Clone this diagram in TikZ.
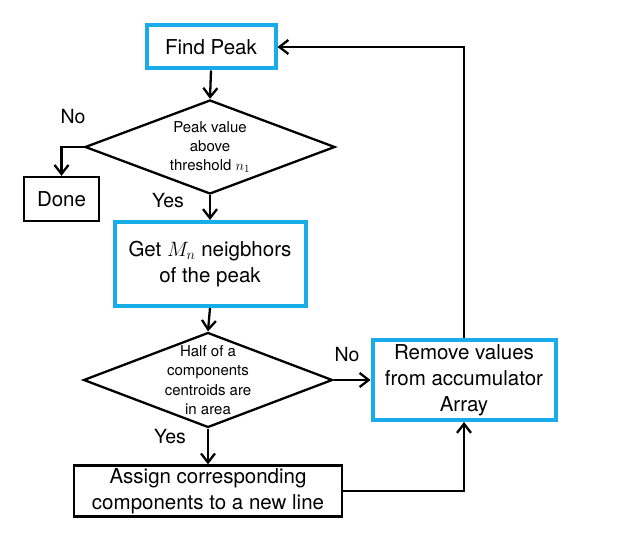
\documentclass[tikz,border=0pt]{standalone}
\usepackage{fontspec}
\setmainfont{TeX Gyre Heros}
\usepackage{xcolor}
\usetikzlibrary{arrows.meta, shapes.geometric}
\definecolor{boxcyan}{RGB}{24,172,232}

\begin{document}
\begin{tikzpicture}[x=1pt, y=-1pt,
    bigtext/.style={font=\fontsize{20.5}{26}\selectfont, align=center},
    cyanbox/.style={draw=boxcyan, line width=4pt, bigtext, inner sep=0pt},
    blackbox/.style={draw=black, line width=2.3pt, bigtext, inner sep=0pt},
    decision/.style={draw=black, line width=2.3pt, diamond, inner sep=0pt},
    dectext/.style={font=\fontsize{15}{19.3}\selectfont, align=center},
    answer/.style={font=\fontsize{19.5}{24}\selectfont},
    arr/.style={draw=black, line width=2.3pt, -{Straight Barb[length=9pt, width=14pt]}}]
    \useasboundingbox (0,0) rectangle (625,537);
    % boxes and decisions
    \node[cyanbox, minimum width=129pt, minimum height=43pt] (find) at (211,47) {Find Peak};
    \node[decision, minimum width=250pt, minimum height=94pt,
        label={[dectext]center:Peak value\\above\\threshold $n_1$}] (peakdec) at (210,147) {};
    \node[blackbox, minimum width=75pt, minimum height=44pt] (done) at (61.5,199) {Done};
    \node[cyanbox, minimum width=191pt, minimum height=84pt] (getnb) at (210,264) {Get $M_n$ neigbhors\\of the peak};
    \node[decision, minimum width=249pt, minimum height=95pt,
        label={[dectext]center:Half of a\\components\\centroids are\\in area}] (halfdec) at (208,380) {};
    \node[cyanbox, minimum width=183pt, minimum height=80pt] (remove) at (464,380) {Remove values\\from accumulator\\Array};
    \node[blackbox, minimum width=268pt, minimum height=51pt] (assign) at (208,491) {Assign corresponding\\components to a new line};
    % yes / no
    \node[answer] (no1) at (73,117) {No};
    \node[answer] (yes1) at (168,201) {Yes};
    \node[answer] (no2) at (347,355) {No};
    \node[answer] (yes2) at (170,437) {Yes};
    % connectors
    \draw[arr] (find.south) -- (peakdec.north);
    \draw[arr] (peakdec.west) -| (done.north);
    \draw[arr] (peakdec.south) -- (getnb.north);
    \draw[arr] (getnb.south) -- (halfdec.north);
    \draw[arr] (halfdec.east) -- (remove.west);
    \draw[arr] (halfdec.south) -- (assign.north);
    \draw[arr] (assign.east) -| (remove.south);
    \draw[arr] (remove.north) |- (find.east);
\end{tikzpicture}
\end{document}
